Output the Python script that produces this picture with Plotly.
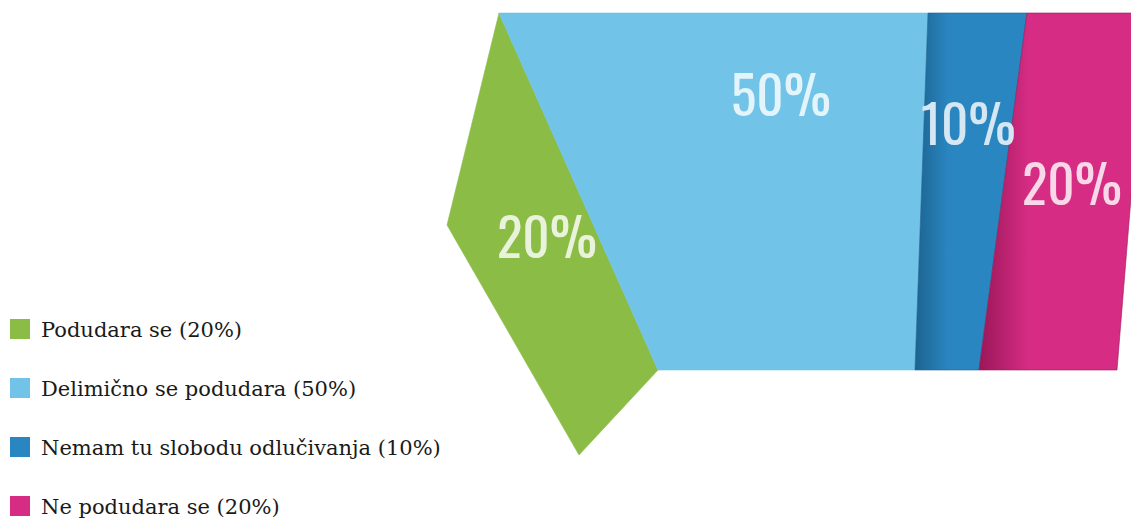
import plotly.graph_objects as go

# Survey answers and their shares (%)
categories = [
    "Podudara se",
    "Delimično se podudara",
    "Nemam tu slobodu odlučivanja",
    "Ne podudara se",
]
shares = [20, 50, 10, 20]
tick_labels = [f"{v}%" for v in shares]

# Palette
fill_colors = ["#8bbd46", "#71c4e7", "#2a86c0", "#d62c84"]
shade_colors = [None, None, "#1c6391", "#9a1758"]
label_colors = ["#e9f3dc", "#e3f4fb", "#d5e7f3", "#f7d7e8"]

# Folded-ribbon layout (pixel space of the canvas)
W, H = 1131, 521
ribbon_top_start = (447.0, 225.0)
ribbon_bot_start = (579.0, 455.0)
# projected direction of the top / bottom ribbon edges per unit share, one per panel
fold_top = [(260, -1060), (858, 0), (990, 0), (595, 0)]
fold_bot = [(395, -425), (514, 0), (640, 0), (690, 0)]
# where each label sits inside its panel: (across, down) fractions
label_uv = [(0.61, 0.46), (0.63, 0.23), (0.50, 0.31), (0.53, 0.48)]

fig = go.Figure()

top = ribbon_top_start
bot = ribbon_bot_start
for i, (cat, v) in enumerate(zip(categories, shares)):
    f = v / 100.0
    top_end = (top[0] + f * fold_top[i][0], top[1] + f * fold_top[i][1])
    bot_end = (bot[0] + f * fold_bot[i][0], bot[1] + f * fold_bot[i][1])
    xs = [top[0], top_end[0], bot_end[0], bot[0], top[0]]
    ys = [top[1], top_end[1], bot_end[1], bot[1], top[1]]
    trace = dict(
        x=xs, y=ys, mode="lines", fill="toself",
        line=dict(width=0.6, color=fill_colors[i]),
        fillcolor=fill_colors[i],
        hoverinfo="skip", showlegend=False, name=cat,
    )
    if shade_colors[i]:
        trace["fillgradient"] = dict(
            type="horizontal",
            colorscale=[[0, shade_colors[i]], [0.3, fill_colors[i]], [1, fill_colors[i]]],
        )
        trace["line"] = dict(width=0.6, color=shade_colors[i])
    fig.add_trace(go.Scatter(**trace))

    # value label inside the panel
    u, t = label_uv[i]
    tx = top[0] + u * (top_end[0] - top[0])
    ty = top[1] + u * (top_end[1] - top[1])
    bx = bot[0] + u * (bot_end[0] - bot[0])
    by = bot[1] + u * (bot_end[1] - bot[1])
    fig.add_annotation(
        x=tx + t * (bx - tx), y=ty + t * (by - ty),
        text=tick_labels[i], showarrow=False,
        xanchor="center", yanchor="middle", yshift=3,
        font=dict(family="Oswald, Roboto Condensed, sans-serif",
                  size=53, weight=400, color=label_colors[i]),
    )
    top, bot = top_end, bot_end

# Legend: square swatches plus captions
legend_x = 20
legend_y0, legend_dy = 329, 59
legend_ys = [legend_y0 + k * legend_dy for k in range(len(categories))]
fig.add_trace(go.Scatter(
    x=[legend_x] * len(categories), y=legend_ys, mode="markers",
    marker=dict(symbol="square", size=20, color=fill_colors, line=dict(width=0)),
    hoverinfo="skip", showlegend=False,
))
for k, (cat, v) in enumerate(zip(categories, shares)):
    fig.add_annotation(
        x=39, y=legend_ys[k] + 1, text=f"{cat} ({v}%)", showarrow=False,
        xanchor="left", yanchor="middle",
        font=dict(family="DejaVu Serif, Georgia, serif", size=21, color="#1a1a1a"),
    )

fig.update_layout(
    width=W, height=H,
    margin=dict(l=0, r=0, t=0, b=0),
    paper_bgcolor="white", plot_bgcolor="white",
    xaxis=dict(range=[0, W], visible=False, fixedrange=True),
    yaxis=dict(range=[H, 0], visible=False, fixedrange=True),
    showlegend=False,
)

fig.write_html("out.html")
